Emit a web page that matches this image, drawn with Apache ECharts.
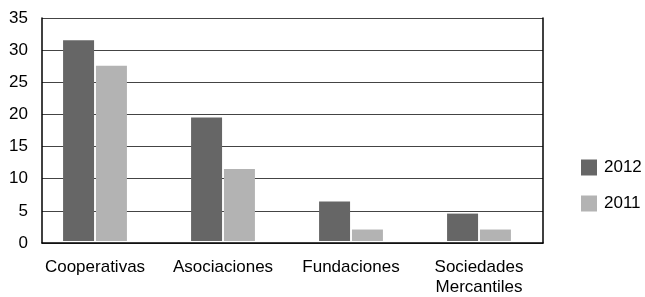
<!DOCTYPE html>
<html>
<head>
<meta charset="utf-8">
<script src="https://cdn.jsdelivr.net/npm/echarts@6/dist/echarts.min.js"></script>
<style>
  html, body { margin: 0; padding: 0; background: #fff; }
  #chart { width: 645px; height: 297px; }
</style>
</head>
<body>
<div id="chart"></div>
<script>
// datos
var categorias = ['Cooperativas', 'Asociaciones', 'Fundaciones', 'Sociedades\nMercantiles']
var datos2012 = [31.5, 19.4, 6.2, 4.3]
var datos2011 = [27.5, 11.3, 1.8, 1.8]
var seriesNombres = ['2012', '2011']

var fuente = 'Liberation Sans'
var chart = echarts.init(document.getElementById('chart'))

chart.setOption({
  animation: false,
  textStyle: { fontFamily: fuente },
  grid: [
    // marco y eje y
    { left: 42, right: 102, top: 18, bottom: 54 },
    // barras
    { left: 31, right: 102, top: 18, bottom: 54 }
  ],
  legend: {
    orient: 'vertical',
    left: 576,
    top: 154,
    itemWidth: 16,
    itemHeight: 16,
    itemGap: 19,
    icon: 'rect',
    data: seriesNombres,
    textStyle: { fontFamily: fuente, fontSize: 17, color: '#000', padding: [0, 0, 0, 2] }
  },
  xAxis: [
    {
      gridIndex: 0,
      type: 'category',
      data: [''],
      axisLine: { show: true, lineStyle: { color: '#000', width: 1.5 } },
      axisTick: { show: false },
      axisLabel: { show: false }
    },
    {
      gridIndex: 1,
      type: 'category',
      data: categorias,
      axisLine: { show: false },
      axisTick: { show: false },
      axisLabel: {
        margin: 16,
        color: '#000',
        fontFamily: fuente,
        fontSize: 17,
        lineHeight: 20,
        interval: 0
      }
    }
  ],
  yAxis: [
    {
      gridIndex: 0,
      type: 'value',
      min: 0,
      max: 35,
      interval: 5,
      axisLine: { show: true, lineStyle: { color: '#000', width: 1.5 } },
      axisTick: { show: false },
      splitLine: { lineStyle: { color: '#444', width: 1 } },
      axisLabel: { margin: 14, color: '#000', fontFamily: fuente, fontSize: 17 }
    },
    {
      gridIndex: 0,
      type: 'value',
      position: 'right',
      min: 0,
      max: 35,
      interval: 5,
      axisLine: { show: true, lineStyle: { color: '#000', width: 1.5 } },
      axisTick: { show: false },
      splitLine: { show: false },
      axisLabel: { show: false }
    },
    {
      gridIndex: 1,
      type: 'value',
      min: 0,
      max: 35,
      show: false
    }
  ],
  series: [
    {
      name: seriesNombres[0],
      type: 'bar',
      xAxisIndex: 1,
      yAxisIndex: 2,
      data: datos2012,
      barWidth: 31,
      barGap: '6%',
      itemStyle: { color: '#666666' }
    },
    {
      name: seriesNombres[1],
      type: 'bar',
      xAxisIndex: 1,
      yAxisIndex: 2,
      data: datos2011,
      barWidth: 31,
      barGap: '6%',
      itemStyle: { color: '#b3b3b3' }
    }
  ]
})
</script>
</body>
</html>
